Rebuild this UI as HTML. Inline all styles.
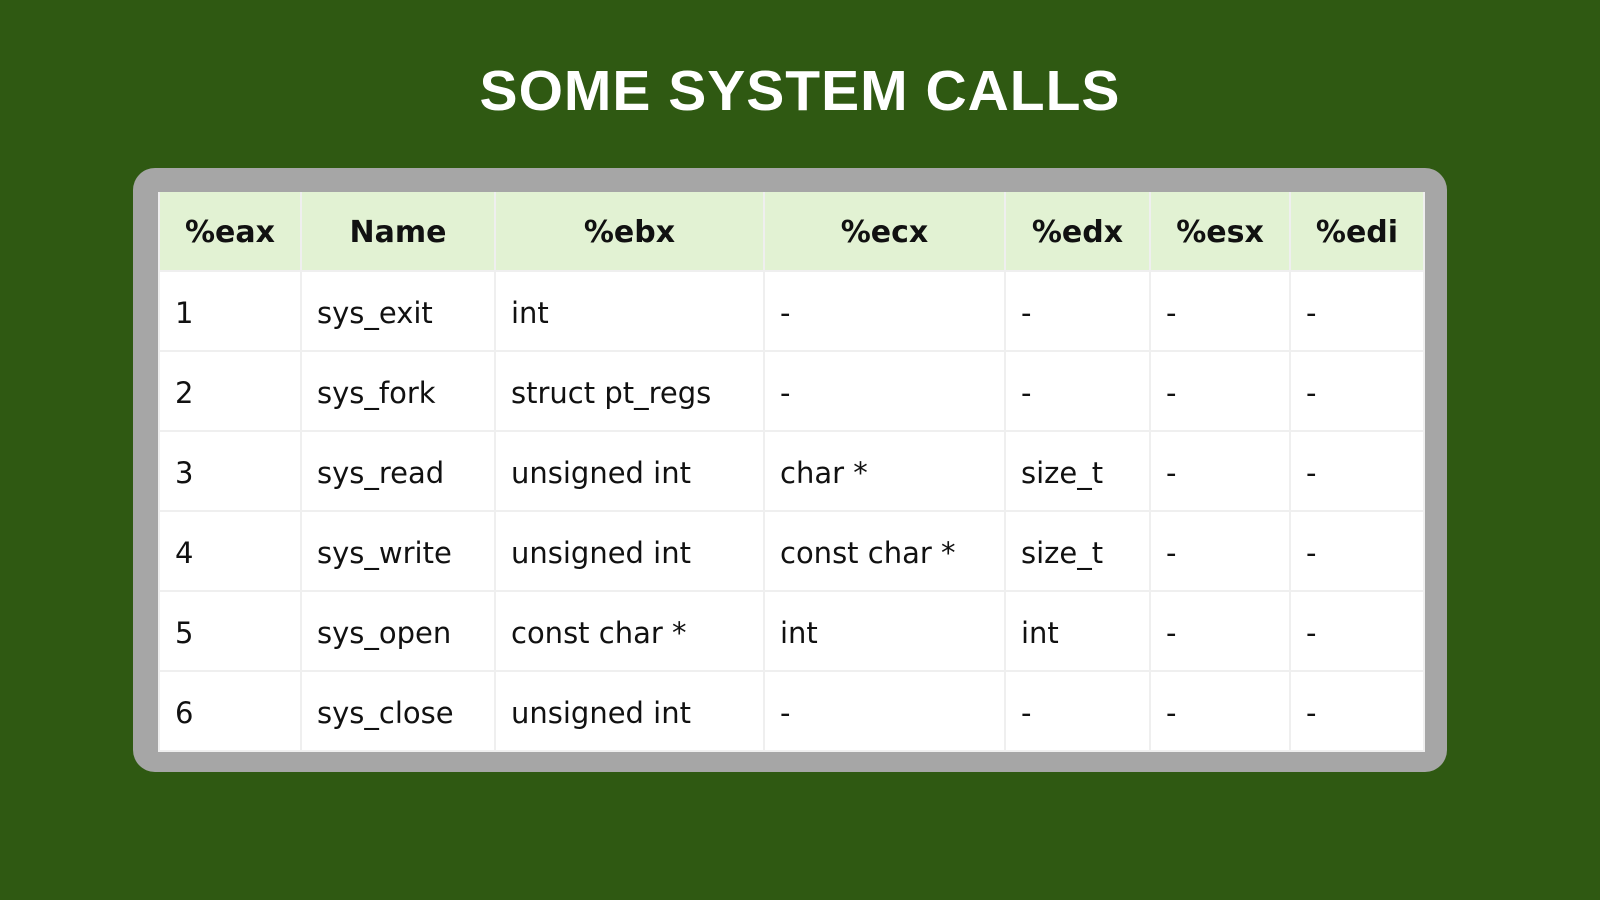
<!DOCTYPE html>
<html><head><meta charset="utf-8"><style>
html,body{margin:0;padding:0}
body{width:1600px;height:900px;background:#2f5912;position:relative;overflow:hidden;font-family:"DejaVu Sans","Liberation Sans",sans-serif}
.title{position:absolute;left:0;width:1600px;top:56px;text-align:center;color:#fff;font-family:"Liberation Sans",sans-serif;font-weight:bold;font-size:57px;line-height:70px;letter-spacing:1px}
.box{position:absolute;left:133px;top:168px;width:1314px;height:604px;background:#a6a6a6;border-radius:22px}
table{position:absolute;left:158px;top:192px;border-collapse:collapse;background:#fff}
td,th{border:2px solid #efefef;padding:3px 0 0 15px;text-align:left;font-size:29px;color:#111;font-weight:normal;height:75px}
th{background:#e2f2d3;font-weight:bold;text-align:center;padding:3px 0 0 0;color:#111;height:75px;font-size:30px}
tr:first-child th{border-top:none}
</style></head><body>
<div class="title">SOME SYSTEM CALLS</div>
<div class="box"></div>
<table>
<colgroup><col style="width:142px"><col style="width:194px"><col style="width:269px"><col style="width:241px"><col style="width:145px"><col style="width:140px"><col style="width:134px"></colgroup>
<tr><th>%eax</th><th>Name</th><th>%ebx</th><th>%ecx</th><th>%edx</th><th>%esx</th><th>%edi</th></tr>
<tr><td>1</td><td>sys_exit</td><td>int</td><td>-</td><td>-</td><td>-</td><td>-</td></tr>
<tr><td>2</td><td>sys_fork</td><td>struct pt_regs</td><td>-</td><td>-</td><td>-</td><td>-</td></tr>
<tr><td>3</td><td>sys_read</td><td>unsigned int</td><td>char *</td><td>size_t</td><td>-</td><td>-</td></tr>
<tr><td>4</td><td>sys_write</td><td>unsigned int</td><td>const char *</td><td>size_t</td><td>-</td><td>-</td></tr>
<tr><td>5</td><td>sys_open</td><td>const char *</td><td>int</td><td>int</td><td>-</td><td>-</td></tr>
<tr><td style="height:67px">6</td><td>sys_close</td><td>unsigned int</td><td>-</td><td>-</td><td>-</td><td>-</td></tr>
</table>
</body></html>
